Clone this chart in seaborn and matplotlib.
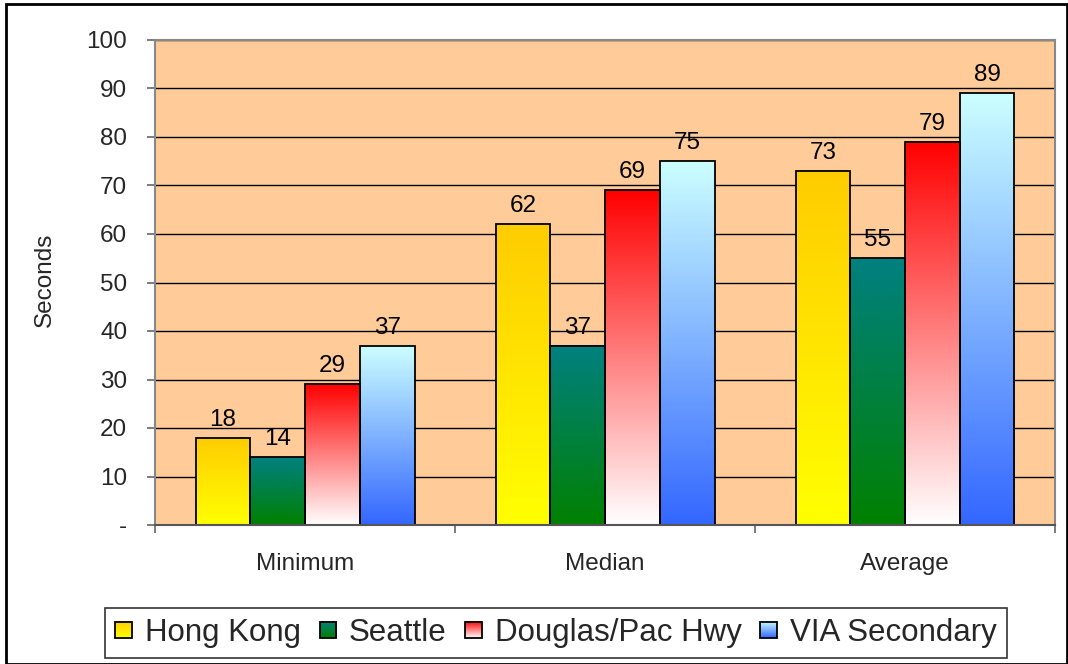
import numpy as np
import pandas as pd
import matplotlib
matplotlib.use("Agg")
import matplotlib.pyplot as plt
import seaborn as sns
from matplotlib.patches import Rectangle, Patch
from matplotlib.legend_handler import HandlerBase
from matplotlib.image import BboxImage
from matplotlib.transforms import Bbox, TransformedBbox
from matplotlib.colors import to_rgb

categories = ["Minimum", "Median", "Average"]
series = ["Hong Kong", "Seattle", "Douglas/Pac Hwy", "VIA Secondary"]
hong_kong = [18, 62, 73]
seattle = [14, 37, 55]
douglas = [29, 69, 79]
via_secondary = [37, 75, 89]
yticks = [0, 10, 20, 30, 40, 50, 60, 70, 80, 90, 100]
ytick_labels = ["-", "10", "20", "30", "40", "50", "60", "70", "80", "90", "100"]

# gradient (bottom, top) colours per series
grads = {
    "Hong Kong": ("#FFFF00", "#FFCC00"),
    "Seattle": ("#008000", "#008080"),
    "Douglas/Pac Hwy": ("#FFFFFF", "#FF0000"),
    "VIA Secondary": ("#3366FF", "#CCFFFF"),
}

rows = []
for s, vals in zip(series, [hong_kong, seattle, douglas, via_secondary]):
    for c, v in zip(categories, vals):
        rows.append({"Metric": c, "Site": s, "Seconds": v})
df = pd.DataFrame(rows)

sns.set_theme(style="white")
plt.rcParams["font.family"] = ["Liberation Sans", "DejaVu Sans"]

fig = plt.figure(figsize=(10.68, 6.64), dpi=100)
ax = fig.add_axes([155 / 1068, 1 - 525 / 664, 900 / 1068, 485 / 664])
ax.set_facecolor("#FFCC99")

palette = {s: grads[s][1] for s in series}
sns.barplot(data=df, x="Metric", y="Seconds", hue="Site", hue_order=series,
            order=categories, palette=palette, width=0.73, gap=0,
            edgecolor="black", linewidth=1.3, ax=ax, legend=False, zorder=3)


def grad_array(c0, c1, n=256):
    a = np.array(to_rgb(c0))
    b = np.array(to_rgb(c1))
    t = np.linspace(0, 1, n)[:, None]
    return (a + (b - a) * t)[:, None, :]

for cont, s in zip(ax.containers, series):
    c0, c1 = grads[s]
    arr = grad_array(c0, c1)
    for p in cont.patches:
        x0, y0 = p.get_x(), p.get_y()
        w, h = p.get_width(), p.get_height()
        p.set_facecolor("none")
        ax.imshow(arr, extent=[x0, x0 + w, y0, y0 + h], origin="lower",
                  aspect="auto", zorder=2.5, interpolation="bilinear")
    ax.bar_label(cont, labels=[f"{v:.0f}" for v in cont.datavalues],
                 padding=5, fontsize=17.5, color="black")

ax.set_xlim(-0.5, 2.5)
ax.set_ylim(0, 100)
ax.set_yticks(yticks)
ax.set_yticklabels(ytick_labels, fontsize=17.5)
ax.yaxis.grid(True, color="black", linewidth=1.0)
ax.set_axisbelow(True)
ax.tick_params(axis="y", which="both", left=True, length=6, width=1.2,
               color="#666666", pad=14)
ax.set_xticks([0, 1, 2])
ax.set_xticklabels(categories, fontsize=17.5)
ax.set_xticks([-0.5, 0.5, 1.5, 2.5], minor=True)
ax.tick_params(axis="x", which="major", bottom=False, length=0, pad=20.5)
ax.tick_params(axis="x", which="minor", bottom=True, length=6, width=1.2,
               color="#666666")
ax.set_xlabel("")
ax.set_ylabel("Seconds", fontsize=17.5)
ax.yaxis.set_label_coords((45 - 155) / 900, 0.5 + 2.5 / 485)
ax.yaxis.label.set_verticalalignment("center")
for side in ["top", "right", "left", "bottom"]:
    ax.spines[side].set_visible(True)
    ax.spines[side].set_color("#888888")
    ax.spines[side].set_linewidth(1.5)
    ax.spines[side].set_zorder(4)
ax.spines["bottom"].set_color("#555555")


class GradHandler(HandlerBase):
    def __init__(self, c0, c1):
        super().__init__()
        self.c0, self.c1 = c0, c1

    def create_artists(self, legend, orig_handle, xdescent, ydescent, width,
                       height, fontsize, trans):
        size = min(width, height)
        x0 = -xdescent + (width - size) / 2
        y0 = -ydescent + (height - size) / 2
        img = BboxImage(TransformedBbox(Bbox.from_bounds(x0, y0, size, size), trans),
                        origin="lower", interpolation="bilinear")
        img.set_data(grad_array(self.c0, self.c1))
        rect = Rectangle((x0, y0), size, size, facecolor="none",
                         edgecolor="black", linewidth=1.3, transform=trans)
        return [img, rect]

handles = [Patch(label=s) for s in series]
hmap = {h: GradHandler(*grads[s]) for h, s in zip(handles, series)}
leg = fig.legend(handles=handles, labels=series, handler_map=hmap,
                 loc="center", bbox_to_anchor=(556 / 1068, 1 - 633 / 664),
                 ncol=4, fontsize=22.5, frameon=True, fancybox=False,
                 edgecolor="black", handlelength=0.52, handleheight=0.52,
                 handletextpad=0.42, columnspacing=0.6, borderpad=0.32)
leg.get_frame().set_linewidth(1.2)

fig.patches.append(Rectangle((6 / 1068, 0), 1 - 6 / 1068 - 0.001, 1 - 4 / 664,
                             transform=fig.transFigure, fill=False,
                             edgecolor="black", linewidth=2))

fig.savefig("out.png", dpi=100)
